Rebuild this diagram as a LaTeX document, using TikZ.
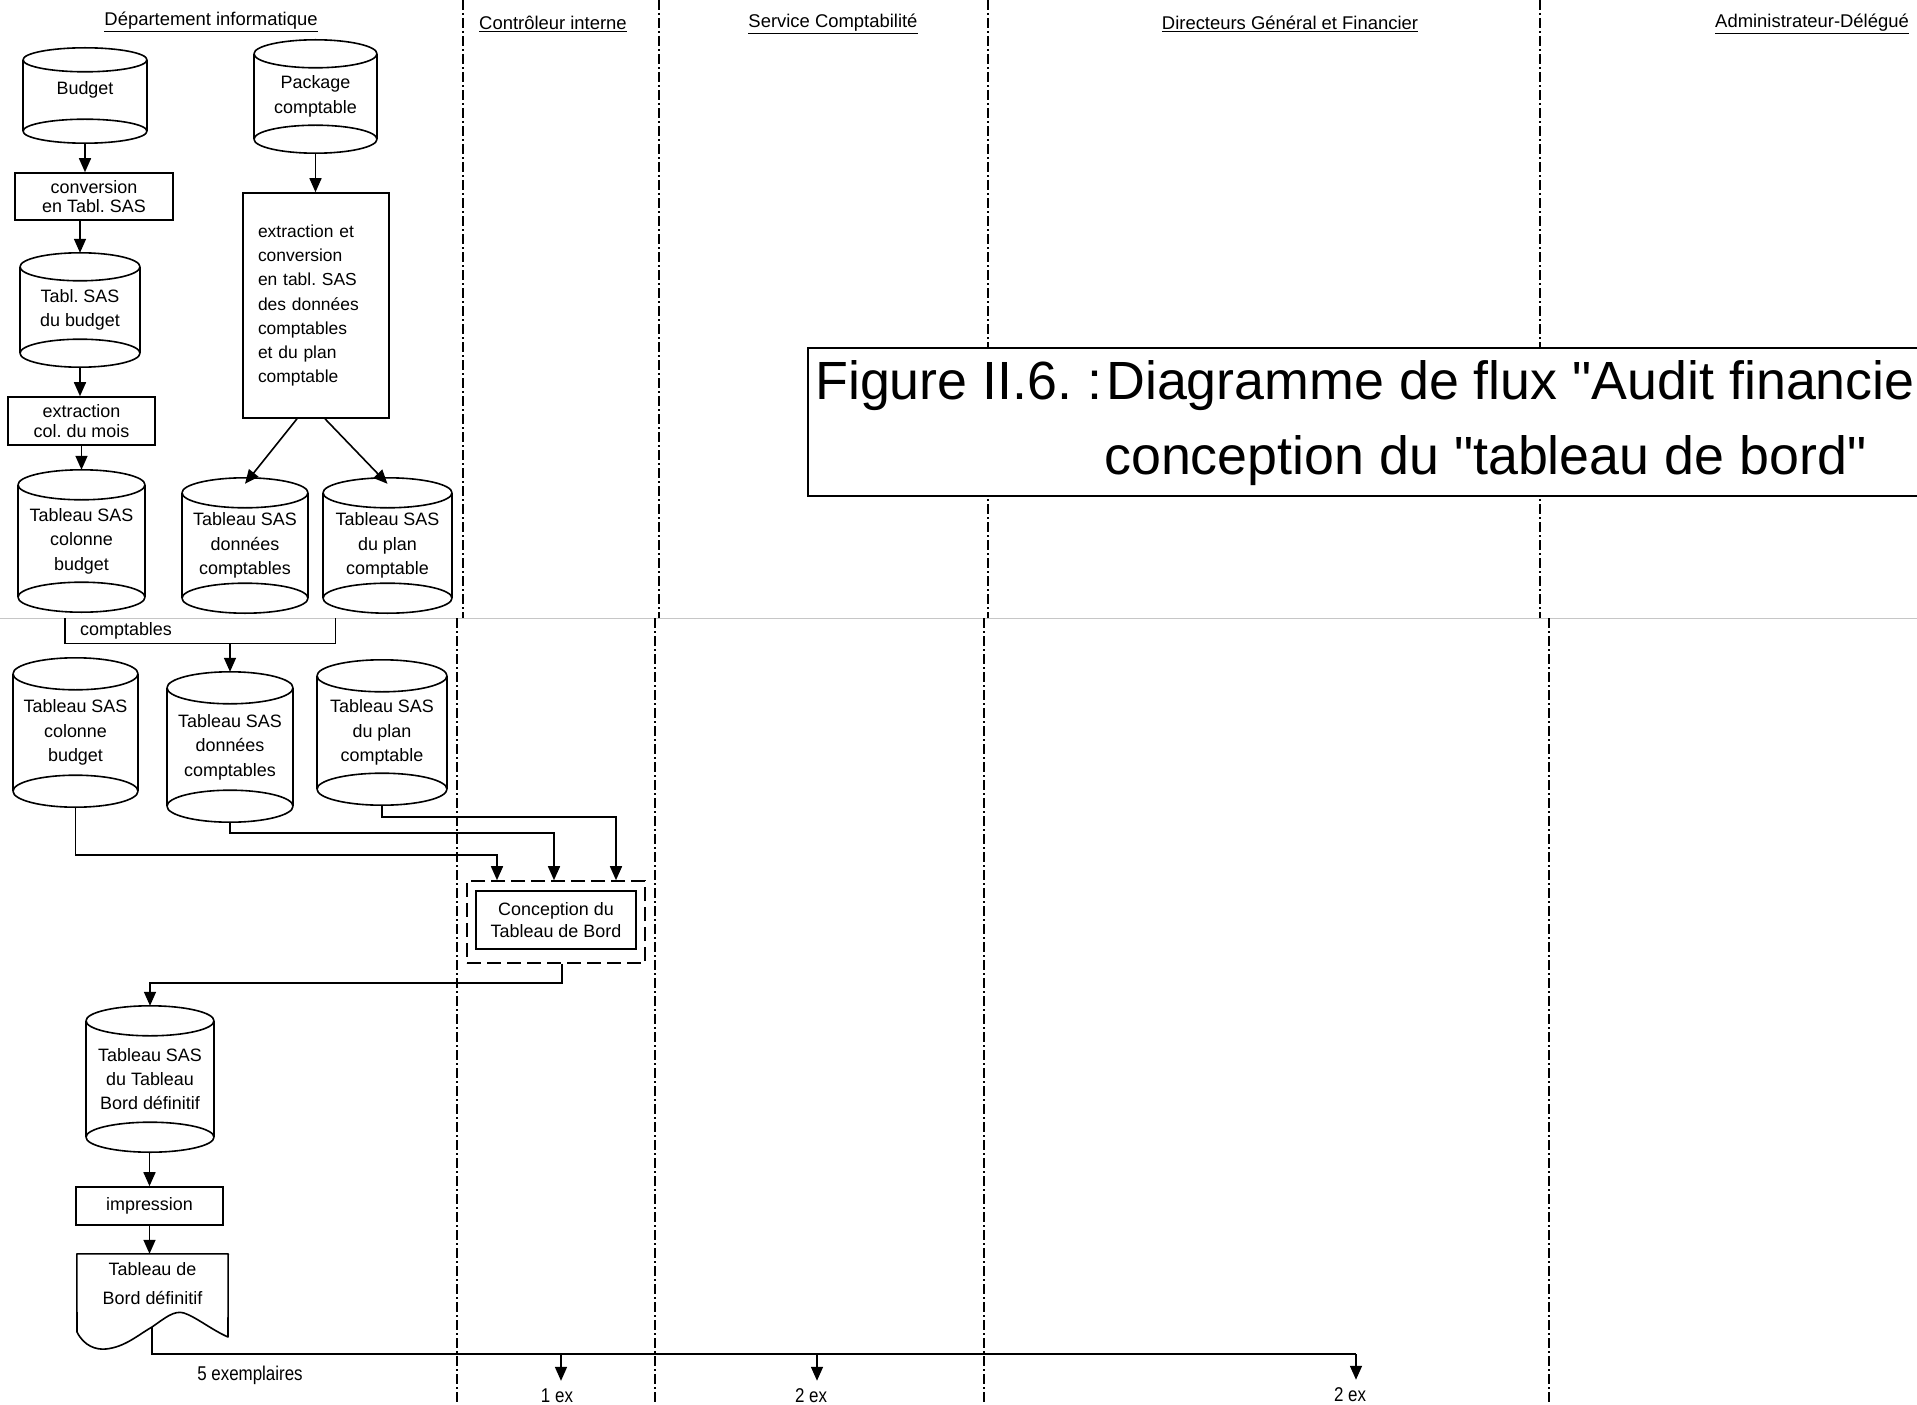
\documentclass[tikz,border=0pt]{standalone}
\usepackage{fontspec}
\setmainfont{Liberation Sans}
\newfontfamily\narrowfont[FakeStretch=0.85]{Liberation Sans}
\usetikzlibrary{arrows.meta,calc}

\tikzset{
  outline/.style={line width=1.6bp, line join=round},
  link/.style={line width=1.6bp},
  arr/.style={line width=1.6bp, -{Triangle[length=14bp,width=12bp]}},
  lane/.style={line width=1.4bp, dash pattern=on 10bp off 3bp on 2bp off 3bp},
  header/.style={font=\fontsize{18.5}{20}\selectfont, inner sep=0pt},
  cyltext/.style={align=center, inner sep=0pt, font=\fontsize{18}{24.5}\selectfont},
  procbox/.style={draw, line width=1.6bp, align=center, inner sep=0pt,
                  font=\fontsize{18}{19}\selectfont},
  qty/.style={inner sep=0pt, font=\narrowfont\fontsize{20}{22}\selectfont},
  titleline/.style={inner sep=0pt, anchor=base west, font=\fontsize{54}{60}\selectfont},
}

% disk-storage symbol: name, centre x, top y, bottom y, width, ellipse half-height, label
\newcommand\dbcyl[7]{%
  \pgfmathsetmacro\cylrx{#5/2}%
  \pgfmathsetmacro\cylcy{(#3+#4)/2}%
  \pgfmathsetmacro\cylh{#4-#3}%
  \node[cyltext, minimum width=#5bp, minimum height=\cylh bp] (#1) at (#2,\cylcy) {#7};
  \draw[outline] ([yshift=-#6bp]#1.north west) -- ([yshift=#6bp]#1.south west)
                 ([yshift=-#6bp]#1.north east) -- ([yshift=#6bp]#1.south east);
  \draw[outline] ([yshift=-#6bp]#1.north) ellipse [x radius=\cylrx bp, y radius=#6bp];
  \draw[outline] ([yshift=#6bp]#1.south) ellipse [x radius=\cylrx bp, y radius=#6bp];
}

\begin{document}
\frenchspacing
\begin{tikzpicture}[x=1bp, y=-1bp]
\useasboundingbox (0,0) rectangle (1917,1405);
\clip (0,0) rectangle (1917,1405);
\fill[white] (0,0) rectangle (1917,1405);

% page join
\draw[gray!45, line width=0.8bp] (0,618) -- (1917,618);

% swim-lane separators
\foreach \xa/\xb in {463/457, 659/655, 988/984, 1540/1549} {
  \draw[lane] (\xa,0) -- (\xa,618);
  \draw[lane] (\xb,618) -- (\xb,1405);
}

% lane headers
\node[header] (hdept) at (211,22) {\underline{Département informatique}};
\node[header] (hctrl) at (553,24) {\underline{Contrôleur interne}};
\node[header] (hsvc)  at (833,24) {\underline{Service Comptabilité}};
\node[header] (hdir)  at (1290,24) {\underline{Directeurs Général et Financier}};
\node[header] (hadm)  at (1812,24) {\underline{Administrateur-Délégué}};

% title frame
\node[draw, line width=1.8bp, fill=white, anchor=north west,
      minimum width=1130bp, minimum height=148bp] (titlebox) at (807,347) {};
\node[titleline] (title1) at (815,399)
  {Figure II.6. :\hspace{4bp}Diagramme de flux \textquotedbl Audit financier};
\node[titleline] (title2) at (1104,474)
  {conception du \textquotedbl tableau de bord\textquotedbl};

% ---- upper part: data preparation
\dbcyl{budget}{85}{48}{143}{124}{12}{Budget\\[-10bp]\mbox{}}
\dbcyl{pkg}{315.5}{40}{153}{123}{14}{Package\\comptable}
\node[procbox, minimum width=158bp, minimum height=47bp] (conv) at (94,196.5)
  {conversion\\en Tabl. SAS};
\dbcyl{tsb}{80}{253}{367}{120}{14}{Tabl. SAS\\du budget}
\node[procbox, minimum width=147bp, minimum height=48bp, font=\fontsize{18}{20}\selectfont]
  (extcol) at (81.5,421) {extraction\\col. du mois};
\dbcyl{tcb}{81.5}{470}{612}{127}{15}{Tableau SAS\\colonne\\budget}
\node[procbox, minimum width=146bp, minimum height=225bp, align=left,
      text width=116bp, inner xsep=15bp,
      font=\fontsize{17.5}{24.2}\selectfont] (ext2) at (316,305.5)
  {extraction et\\conversion\\en tabl. SAS\\des données\\comptables\\et du plan\\comptable};
\dbcyl{dc1}{245}{478}{613}{126}{15}{Tableau SAS\\données\\comptables}
\dbcyl{pc1}{387.5}{478}{613}{129}{15}{Tableau SAS\\du plan\\comptable}

\draw[arr] (budget.south) -- (budget.south |- conv.north);
\draw[arr] (conv.south -| tsb.north) -- (tsb.north);
\draw[arr] (tsb.south) -- (tsb.south |- extcol.north);
\draw[arr] (extcol.south -| tcb.north) -- (tcb.north);
\draw[arr] (pkg.south) -- (pkg.south |- ext2.north);
\draw[arr] ([xshift=-19bp]ext2.south) -- ([yshift=-6bp]dc1.north);
\draw[arr] ([xshift=9bp]ext2.south) -- ([yshift=-6bp]pc1.north);

% ---- lower part
\node[anchor=north west, minimum width=270bp, minimum height=25bp, inner xsep=15bp,
      inner ysep=0pt, text width=240bp, align=left, font=\fontsize{18}{20}\selectfont]
  (compt) at (65,618) {comptables};
\draw[link] (compt.north west) |- (compt.south east) -- (compt.north east);

\dbcyl{bc2}{75.5}{658}{807}{125}{16}{Tableau SAS\\colonne\\budget}
\dbcyl{dc2}{230}{672}{822}{126}{16}{Tableau SAS\\données\\comptables}
\dbcyl{pc2}{382}{660}{805}{130}{16}{Tableau SAS\\du plan\\comptable}

\draw[arr] (compt.south -| dc2.north) -- (dc2.north);

\node[draw, line width=1.6bp, dash pattern=on 14bp off 6bp,
      minimum width=178bp, minimum height=82bp] (frame) at (556,922) {};
\node[procbox, minimum width=160bp, minimum height=58bp, font=\fontsize{18}{22}\selectfont]
  (concept) at (556,920) {Conception du\\Tableau de Bord};

\draw[arr] (bc2.south) -- ++(0,48) -| ([xshift=-59bp]frame.north);
\draw[arr] (dc2.south) -- ++(0,11) -| ([xshift=-2bp]frame.north);
\draw[arr] (pc2.south) -- ++(0,12) -| ([xshift=60bp]frame.north);

\dbcyl{tbd}{150}{1006}{1152}{128}{15}{Tableau SAS\\du Tableau\\Bord définitif}
\draw[arr] ([xshift=6bp]frame.south) -- ++(0,19) -| (tbd.north);

\node[procbox, minimum width=147bp, minimum height=38bp] (impr) at (149.5,1206) {impression};
\draw[arr] (tbd.south -| impr.north) -- (impr.north);

% printed document
\node[align=center, inner sep=0pt, minimum width=151bp, minimum height=59bp,
      font=\fontsize{18}{29}\selectfont] (doc) at (152.5,1283.5) {Tableau de\\Bord définitif};
\draw[outline] (doc.north west) -- (77,1332)
  .. controls (84,1346) and (96,1350) .. (106,1349)
  .. controls (125,1347) and (138,1335) .. (152,1327)
  .. controls (165,1318) and (174,1310) .. (184,1313)
  .. controls (196,1317) and (212,1330) .. (228,1337)
  -- (doc.north east) -- cycle;
\draw[arr] (impr.south) -- (impr.south |- doc.north);

% distribution of the printed copies
\coordinate (docout) at (152,1327);
\coordinate (bend) at (152,1354);
\coordinate (tap1) at (561,1354);
\coordinate (tap2) at (817,1354);
\coordinate (tap3) at (1356,1354);
\draw[link] (docout) -- (bend) -- (tap3);

\node[qty] (q5) at (250,1375) {5 exemplaires};
\node[qty] (q1) at (557,1396) {1 ex};
\node[qty] (q2) at (811,1396) {2 ex};
\node[qty] (q3) at (1350,1395) {2 ex};
\draw[arr, shorten >=8bp] (tap1) -- (tap1 |- q1.north);
\draw[arr, shorten >=8bp] (tap2) -- (tap2 |- q2.north);
\draw[arr, shorten >=8bp] (tap3) -- (tap3 |- q3.north);
\end{tikzpicture}
\end{document}
